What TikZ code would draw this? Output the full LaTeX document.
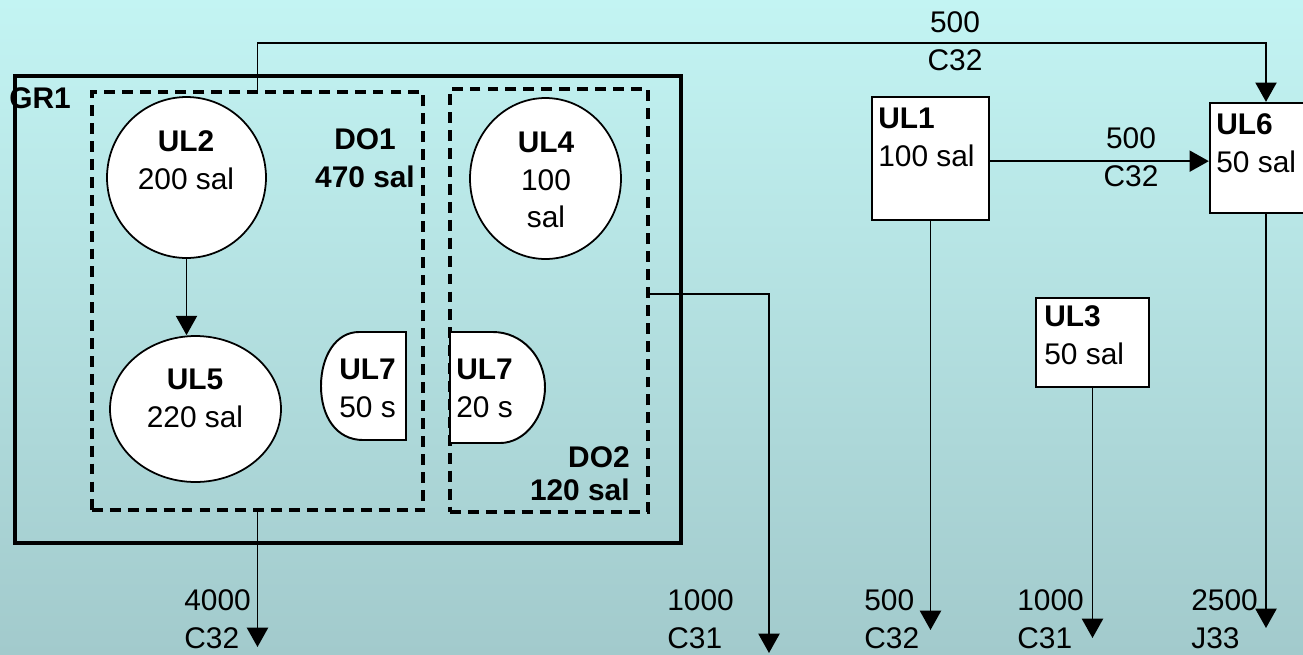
\documentclass[tikz,border=0pt]{standalone}
\usepackage{fontspec}
\setmainfont{Liberation Sans}
\usepackage{tikz}
\usetikzlibrary{arrows.meta, positioning, shapes.geometric, fit}
\definecolor{bgTop}{HTML}{C3F4F3}
\definecolor{bgBot}{HTML}{A2CACC}

\begin{document}
\begin{tikzpicture}[x=0.02cm, y=-0.02cm,
  font=\fontsize{17}{21.5}\selectfont,
  unit/.style={draw, line width=1pt, fill=white, ellipse, inner sep=0pt},
  half/.style={draw, line width=1.1pt, fill=white},
  post/.style={draw, line width=1.3pt, fill=white, rectangle, inner sep=0pt},
  dept/.style={draw, line width=2pt, dash pattern=on 6.2pt off 4pt, inner sep=0pt},
  txt/.style={inner sep=0pt, align=left},
  flow/.style={line width=1.1pt, -{Triangle[length=11pt, width=12pt]}}
]
  \shade[top color=bgTop, bottom color=bgBot] (0,0) rectangle (1303,654);
  \useasboundingbox (0,0) rectangle (1303,654);

  \node[draw, line width=2.2pt, inner sep=0pt, fit={(15,76) (681,543)}] (gr1) {};
  \node[txt, anchor=west] (gr1txt) at (9,98) {\textbf{GR1}};
  \node[dept, fit={(92,92) (423,510)}] (do1) {};
  \node[dept, fit={(450,89) (648,512)}] (do2) {};

  \node[unit, minimum width=3.18cm, minimum height=3.22cm] (ul2) at (186.5,177.5) {};
  \node[unit, minimum width=3.02cm, minimum height=3.22cm] (ul4) at (545.5,178.5) {};
  \node[unit, minimum width=3.42cm, minimum height=2.92cm] (ul5) at (195.5,409) {};
  \draw[half] (406,332) -- (359,332) .. controls (336,332) and (321,356) .. (321,386)
    .. controls (321,416) and (336,440) .. (363,440) -- (406,440) -- cycle;
  \draw[half] (450,332) -- (493,332) .. controls (522,332) and (545,357) .. (545,387)
    .. controls (545,417) and (525,443) .. (500,443) -- (450,443) -- cycle;
  \node[post, fit={(872,97) (989,220)}] (ul1) {};
  \node[post, fit={(1210,103) (1322,213)}] (ul6) {};
  \node[post, fit={(1036,298) (1149,387)}] (ul3) {};

  \node[txt, align=center] (ul2txt) at (186,160) {\textbf{UL2}\\200 sal};
  \node[txt, align=center] (ul4txt) at (546,180) {\textbf{UL4}\\100\\sal};
  \node[txt, align=center] (ul5txt) at (195,398) {\textbf{UL5}\\220 sal};
  \node[txt, anchor=west] (ul7atxt) at (339,388) {\textbf{UL7}\\50 s};
  \node[txt, anchor=west] (ul7btxt) at (456,388) {\textbf{UL7}\\20 s};
  \node[txt, anchor=west] (ul1txt) at (878,137) {\textbf{UL1}\\100 sal};
  \node[txt, anchor=west] (ul6txt) at (1216,143) {\textbf{UL6}\\50 sal};
  \node[txt, anchor=west] (ul3txt) at (1044,335) {\textbf{UL3}\\50 sal};
  \node[txt, align=center] (do1txt) at (365,158) {\textbf{DO1}\\\textbf{470 sal}};
  \node[txt, align=right, anchor=east] (do2txt) at (630,474) {\textbf{DO2}\\[-0.1cm]\textbf{120 sal}};

  \coordinate (topbus) at (955,43);
  \coordinate (sink1) at (258,647);
  \coordinate (sink2) at (769,653);
  \coordinate (sink3) at (931,630);
  \coordinate (sink4) at (1093,638);
  \coordinate (sink5) at (1266,628);

  \draw[flow] (do1.north) -- (do1.north |- topbus) -| (ul6.north);
  \node[txt, align=center] (toptxt) at (955,41) {500\\C32};
  \draw[flow] ([yshift=-1.5pt]ul1.east) -- ([yshift=-1.5pt]ul1.east -| ul6.west);
  \node[txt, align=center] (midtxt) at (1131,157) {500\\C32};
  \draw[flow] (ul2.south) -- (ul2.south |- ul5.north);

  \draw[flow] (do1.south) -- (do1.south |- sink1);
  \draw[flow] ([yshift=3.7pt]do2.east) -| (sink2);
  \draw[flow] (ul1.south) -- (ul1.south |- sink3);
  \draw[flow] (ul3.south) -- (ul3.south |- sink4);
  \draw[flow] (ul6.south) -- (ul6.south |- sink5);

  \node[txt, anchor=west] (q1) at (184,619) {4000\\C32};
  \node[txt, anchor=west] (q2) at (667,619) {1000\\C31};
  \node[txt, anchor=west] (q3) at (864,619) {500\\C32};
  \node[txt, anchor=west] (q4) at (1017,619) {1000\\C31};
  \node[txt, anchor=west] (q5) at (1191,619) {2500\\J33};
\end{tikzpicture}
\end{document}
